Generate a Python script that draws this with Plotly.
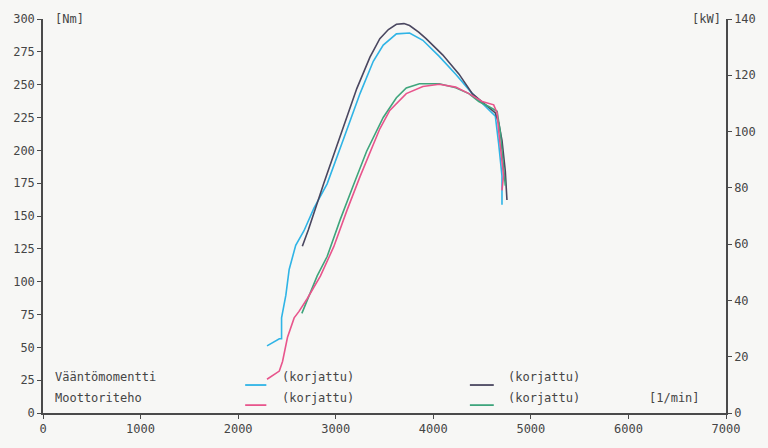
import plotly.graph_objects as go

# ---- data ----
torque_rpm = [2296, 2422, 2445, 2445, 2489, 2523, 2590, 2675, 2777, 2912, 3081, 3249,
              3385, 3487, 3622, 3757, 3893, 4061, 4230, 4400, 4535, 4636, 4670, 4704, 4704]
torque_nm = [51.1, 56.5, 56.5, 72.5, 89.7, 109.3, 127.7, 138.8, 156.0, 174.5, 208.8, 243.2,
             267.8, 280.1, 288.7, 289.3, 283.8, 271.5, 258.0, 243.2, 233.4, 226.1, 205.1, 180.6, 158.5]

torque_corr_rpm = [2658, 2719, 2878, 3047, 3216, 3351, 3452, 3540, 3622, 3700, 3757, 3850, 3926,
                   4096, 4264, 4400, 4535, 4636, 4670, 4704, 4738, 4755]
torque_corr_nm = [127.0, 139.3, 175.0, 211.0, 247.0, 271.0, 285.0, 292.0, 296.0, 296.5, 295.0, 290.0,
                  285.0, 272.7, 258.0, 243.2, 234.6, 228.5, 221.1, 207.6, 184.3, 162.2]

power_rpm = [2296, 2422, 2455, 2506, 2574, 2624, 2709, 2844, 2980, 3115, 3249, 3385, 3452,
             3554, 3723, 3893, 4061, 4230, 4365, 4501, 4619, 4654, 4670, 4720, 4704]
power_kw = [12.0, 14.9, 18.3, 26.9, 33.8, 36.1, 40.7, 48.7, 59.1, 72.0, 84.0, 95.5, 101.0,
            107.5, 113.5, 116.0, 116.8, 115.8, 113.5, 110.7, 109.5, 106.6, 100.3, 84.3, 79.1]

power_corr_rpm = [2653, 2810, 2912, 3047, 3182, 3317, 3487, 3622, 3723, 3858, 4061, 4230,
                  4365, 4467, 4568, 4654, 4687, 4717, 4738]
power_corr_kw = [35.4, 48.7, 55.6, 68.8, 81.0, 93.0, 105.0, 112.0, 115.5, 117.0, 117.0, 115.6,
                 113.5, 110.7, 108.9, 107.2, 99.8, 89.4, 80.8]

x_ticks = [0, 1000, 2000, 3000, 4000, 5000, 6000, 7000]
nm_ticks = [0, 25, 50, 75, 100, 125, 150, 175, 200, 225, 250, 275, 300]
kw_ticks = [0, 20, 40, 60, 80, 100, 120, 140]

C_CYAN = "#2fb4e6"
C_DARK = "#4a4760"
C_PINK = "#e8558c"
C_GREEN = "#3fa57c"
AX = "#4a4a4a"
TXT = "#454545"
FONT = "DejaVu Sans Mono"

fig = go.Figure()
fig.add_trace(go.Scatter(x=torque_rpm, y=torque_nm, mode="lines",
                         line=dict(color=C_CYAN, width=1.6), yaxis="y"))
fig.add_trace(go.Scatter(x=power_corr_rpm, y=power_corr_kw, mode="lines",
                         line=dict(color=C_GREEN, width=1.6), yaxis="y2"))
fig.add_trace(go.Scatter(x=power_rpm, y=power_kw, mode="lines",
                         line=dict(color=C_PINK, width=1.6), yaxis="y2"))
fig.add_trace(go.Scatter(x=torque_corr_rpm, y=torque_corr_nm, mode="lines",
                         line=dict(color=C_DARK, width=1.6), yaxis="y"))

axis_common = dict(showgrid=False, zeroline=False, showline=True, linecolor=AX, linewidth=1.5,
                   ticks="outside", ticklen=4, tickcolor=AX, tickwidth=1.2,
                   tickfont=dict(family=FONT, size=12, color=TXT))

fig.update_layout(
    width=768, height=448,
    margin=dict(l=43, r=36, t=18, b=22),
    paper_bgcolor="#f7f7f5", plot_bgcolor="#f7f7f5",
    showlegend=False,
    xaxis=dict(range=[0, 7000], tickvals=x_ticks, ticktext=[str(v) for v in x_ticks], **axis_common),
    yaxis=dict(range=[0, 300], tickvals=nm_ticks, ticktext=[str(v) for v in nm_ticks], **axis_common),
    yaxis2=dict(range=[0, 140], tickvals=kw_ticks, ticktext=[str(v) for v in kw_ticks],
                overlaying="y", side="right", **axis_common),
)

def txt(x, y, s, xanchor="left"):
    fig.add_annotation(x=x, y=y, xref="paper", yref="paper", text=s, showarrow=False,
                       xanchor=xanchor, yanchor="middle",
                       font=dict(family=FONT, size=12, color=TXT))

def swatch(x0, x1, y, color):
    fig.add_shape(type="line", xref="paper", yref="paper", x0=x0, x1=x1, y0=y, y1=y,
                  line=dict(color=color, width=1.8))

# unit labels
txt(0.014, 1.0, "[Nm]")
txt(0.995, 1.0, "[kW]", xanchor="right")
txt(0.965, 0.039, "[1/min]", xanchor="right")

# legend block
txt(0.014, 0.091, "Vääntömomentti")
txt(0.014, 0.037, "Moottoriteho")
swatch(0.296, 0.327, 0.071, C_CYAN)
swatch(0.296, 0.327, 0.020, C_PINK)
txt(0.347, 0.091, "(korjattu)")
txt(0.347, 0.037, "(korjattu)")
swatch(0.625, 0.660, 0.071, C_DARK)
swatch(0.625, 0.660, 0.020, C_GREEN)
txt(0.678, 0.091, "(korjattu)")
txt(0.678, 0.037, "(korjattu)")

fig.write_html("out.html")
